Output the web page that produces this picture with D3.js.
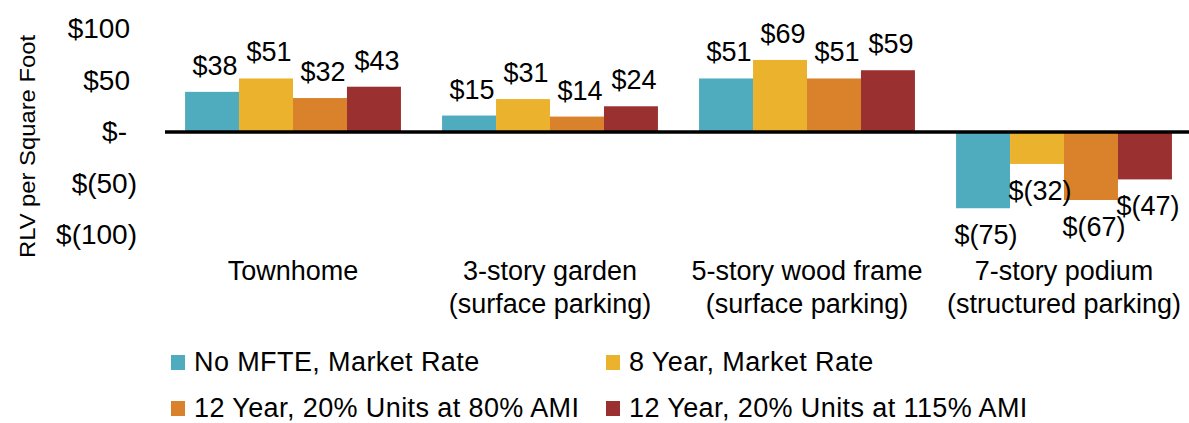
<!DOCTYPE html>
<html>
<head>
<meta charset="utf-8">
<script src="https://cdn.jsdelivr.net/npm/d3@7"></script>
<style>
  html, body { margin: 0; padding: 0; background: #fff; }
  svg { display: block; }
  text { font-family: "Liberation Sans", Arial, sans-serif; fill: #000; }
</style>
</head>
<body>
<svg id="chart" width="1189" height="423"></svg>
<script>
// ---- data ----
const categories = [
  ["Townhome"],
  ["3-story garden", "(surface parking)"],
  ["5-story wood frame", "(surface parking)"],
  ["7-story podium", "(structured parking)"]
];
const seriesNames = [
  "No MFTE, Market Rate",
  "8 Year, Market Rate",
  "12 Year, 20% Units at 80% AMI",
  "12 Year, 20% Units at 115% AMI"
];
const noMfte      = [38, 15, 51, -75];
const eightYear   = [51, 31, 69, -32];
const twelve80    = [32, 14, 51, -67];
const twelve115   = [43, 24, 59, -47];
const seriesValues = [noMfte, eightYear, twelve80, twelve115];
const seriesColors = ["#4FACBE", "#EBB22E", "#D9822B", "#9B3031"];
const yTicks = [100, 50, 0, -50, -100];

// ---- layout ----
const svg = d3.select("#chart");
const x0 = d3.scaleBand().domain(d3.range(categories.length))
  .range([164.5, 1192.5]).paddingInner(0.16).paddingOuter(0.08);
const x1 = d3.scaleBand().domain(d3.range(seriesNames.length))
  .range([0, x0.bandwidth()]).padding(0);
const y = d3.scaleLinear().domain([-100, 100]).range([234, 28]);

const fmt = v => v === 0 ? "$-" : (v < 0 ? "$(" + Math.abs(v) + ")" : "$" + v);

// y axis tick labels
const yAxis = d3.axisLeft(y).tickValues(yTicks).tickSize(0).tickFormat(fmt);
const yg = svg.append("g").attr("transform", "translate(130,0)").call(yAxis);
yg.select(".domain").remove();
yg.selectAll("text")
  .attr("font-size", 28).attr("font-family", "'Liberation Sans', Arial, sans-serif")
  .attr("fill", "#000").attr("dy", "0.35em")
  .attr("x", d => d < 0 ? 7 : (d === 0 ? -3 : 0));

// axis title
svg.append("text")
  .attr("transform", `translate(35,${(35 + 258) / 2}) rotate(-90)`)
  .attr("text-anchor", "middle")
  .attr("font-size", 22)
  .attr("textLength", 223).attr("lengthAdjust", "spacingAndGlyphs")
  .text("RLV per Square Foot");

// bars
const groups = svg.append("g").selectAll("g")
  .data(categories).join("g")
  .attr("transform", (d, i) => `translate(${x0(i)},0)`);

groups.each(function (cat, ci) {
  const g = d3.select(this);
  seriesValues.forEach((vals, si) => {
    const v = vals[ci];
    g.append("rect")
      .attr("x", x1(si))
      .attr("width", x1.bandwidth())
      .attr("y", y(Math.max(0, v)))
      .attr("height", Math.abs(y(v) - y(0)))
      .attr("fill", seriesColors[si]);
  });
  seriesValues.forEach((vals, si) => {
    const v = vals[ci];
    g.append("text")
      .attr("x", x1(si) + x1.bandwidth() / 2 + 3)
      .attr("y", v >= 0 ? y(v) - 17 : y(v) + 36)
      .attr("text-anchor", "middle")
      .attr("font-size", 27)
      .text(fmt(v));
  });
  // category label
  const t = g.append("text")
    .attr("text-anchor", "middle")
    .attr("font-size", 27);
  cat.forEach((line, li) => {
    t.append("tspan")
      .attr("x", x0.bandwidth() / 2)
      .attr("y", 280 + li * 33)
      .text(line);
  });
});

// zero line
svg.append("line")
  .attr("x1", 165).attr("x2", 1189)
  .attr("y1", y(0) + 1).attr("y2", y(0) + 1)
  .attr("stroke", "#000").attr("stroke-width", 3.5);

// legend
const legendPos = [[171, 0], [606, 0], [171, 1], [606, 1]];
const lg = svg.append("g");
seriesNames.forEach((name, i) => {
  const [lx, row] = legendPos[i];
  const by = 371 + row * 46;
  lg.append("rect").attr("x", lx).attr("y", by - 16).attr("width", 14).attr("height", 15)
    .attr("fill", seriesColors[i]);
  lg.append("text").attr("x", lx + 23).attr("y", by)
    .attr("font-size", 27)
    .attr("letter-spacing", 0.4)
    .text(name);
});
</script>
</body>
</html>
